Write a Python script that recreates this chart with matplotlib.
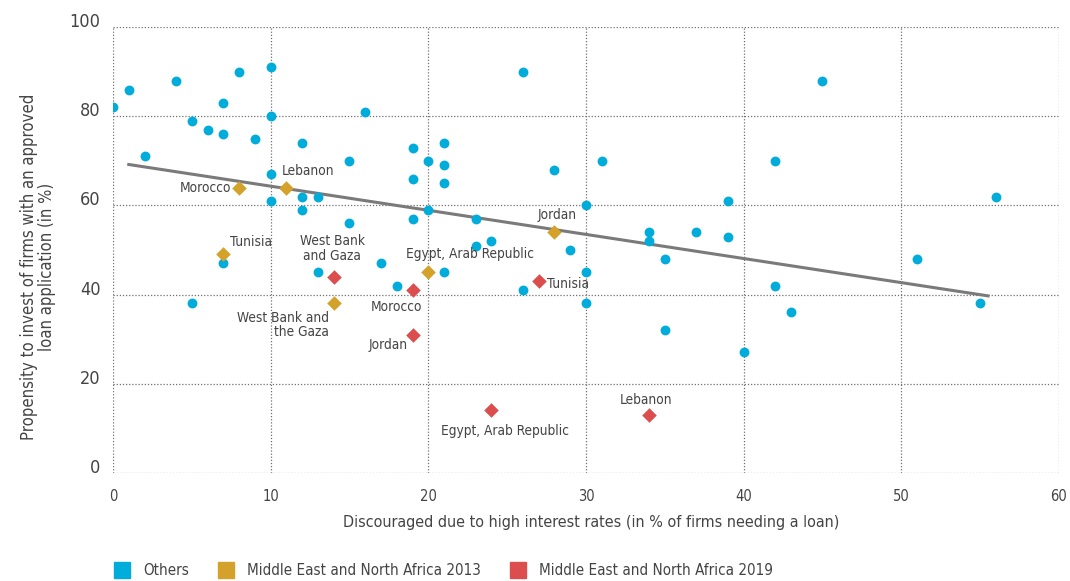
import numpy as np
import matplotlib.pyplot as plt
from matplotlib.lines import Line2D

plt.rcParams['font.family'] = ['DejaVu Sans']
plt.rcParams['font.stretch'] = 'condensed'

# Other countries
others_x = [0, 1, 2, 4, 5, 6, 7, 7, 8, 9, 10, 10, 10, 10, 12, 12, 12, 13, 15, 15,
            16, 13, 17, 18, 19, 19, 19, 20, 20, 21, 21, 21, 21, 23, 23, 24, 26, 26,
            28, 29, 30, 30, 30, 31, 34, 34, 35, 35, 37, 39, 39, 40, 42, 42, 43, 45,
            51, 55, 56, 5, 7]
others_y = [82, 86, 71, 88, 79, 77, 83, 76, 90, 75, 91, 80, 67, 61, 74, 62, 59, 62, 70, 56,
            81, 45, 47, 42, 73, 66, 57, 70, 59, 74, 69, 65, 45, 57, 51, 52, 90, 41,
            68, 50, 60, 45, 38, 70, 54, 52, 48, 32, 54, 61, 53, 27, 70, 42, 36, 88,
            48, 38, 62, 38, 47]

# Middle East and North Africa
mena13_names = ['Morocco', 'Lebanon', 'Tunisia', 'West Bank and\nthe Gaza', 'Egypt, Arab Republic', 'Jordan']
mena13_x = [8, 11, 7, 14, 20, 28]
mena13_y = [64, 64, 49, 38, 45, 54]

mena19_names = ['West Bank\nand Gaza', 'Morocco', 'Jordan', 'Tunisia', 'Egypt, Arab Republic', 'Lebanon']
mena19_x = [14, 19, 19, 27, 24, 34]
mena19_y = [44, 41, 31, 43, 14, 13]

# fitted trend line endpoints
trend_x = [1, 55.5]
trend_y = [69.2, 39.7]

blue = '#00acd9'
gold = '#d4a12a'
red = '#dc4d4d'
txt = '#444444'

fig = plt.figure(figsize=(10.7, 5.81), dpi=100)
ax = fig.add_axes([0.1056, 0.1864, 0.8841, 0.7666])

ax.plot(trend_x, trend_y, color='#7a7a7a', lw=2.2, zorder=2)
ax.scatter(others_x, others_y, s=50, color=blue, zorder=3, linewidths=0)
ax.scatter(mena13_x, mena13_y, s=55, marker='D', color=gold, zorder=4, linewidths=0)
ax.scatter(mena19_x, mena19_y, s=55, marker='D', color=red, zorder=4, linewidths=0)

# label placement (text anchor, alignment) for each country
lab13 = [(7.5, 64, 'right'), (10.7, 67.8, 'left'), (7.4, 51.8, 'left'),
         (13.7, 33.2, 'right'), (18.6, 49.2, 'left'), (28.2, 57.8, 'center')]
lab19 = [(13.9, 50.3, 'center'), (19.6, 37.3, 'right'), (18.7, 28.6, 'right'),
         (27.5, 42.3, 'left'), (24.85, 9.3, 'center'), (33.8, 16.3, 'center')]
for names, labs in [(mena13_names, lab13), (mena19_names, lab19)]:
    for name, (lx, ly, ha) in zip(names, labs):
        ax.text(lx, ly, name, ha=ha, va='center', fontsize=9.8, color=txt,
                linespacing=1.05, multialignment=ha)

ax.set_xlim(0, 60)
ax.set_ylim(0, 100)
ax.set_xticks(np.arange(0, 61, 10))
ax.set_yticks(np.arange(0, 101, 20))
ax.grid(True, linestyle=(0, (1, 1.5)), color='#707070', lw=0.9)
ax.set_axisbelow(True)
for s in ax.spines.values():
    s.set_visible(False)
ax.tick_params(length=0, colors=txt)
ax.tick_params(axis='x', labelsize=10.5, pad=12)
ax.tick_params(axis='y', labelsize=13, pad=9)
for lab in ax.get_yticklabels():
    lab.set_verticalalignment('baseline')

ax.set_xlabel('Discouraged due to high interest rates (in % of firms needing a loan)',
              fontsize=11.5, color=txt)
ax.xaxis.set_label_coords(0.505, -0.095)
ax.set_ylabel('Propensity to invest of firms with an approved\nloan application (in %)',
              fontsize=12, color=txt, linespacing=1.0)
ax.yaxis.set_label_coords(-0.06, 0.462)

handles = [Line2D([], [], marker='s', ls='', color=c, markersize=11.5) for c in (blue, gold, red)]
fig.legend(handles, ['Others', 'Middle East and North Africa 2013', 'Middle East and North Africa 2019'],
           loc='lower left', bbox_to_anchor=(0.0946, -0.018), ncol=3, frameon=False,
           fontsize=10.9, labelcolor=txt, handletextpad=0.86, columnspacing=1.97, handlelength=1.0)

fig.savefig('out.png', dpi=100)
